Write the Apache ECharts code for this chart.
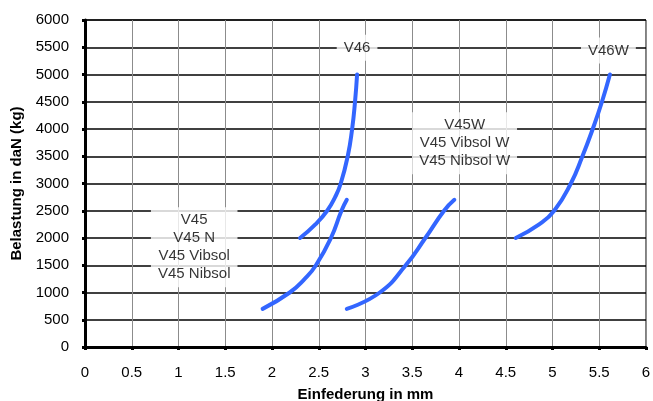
<!DOCTYPE html>
<html>
<head>
<meta charset="utf-8">
<script src="https://cdn.jsdelivr.net/npm/echarts@6/dist/echarts.min.js"></script>
<style>
  html, body { margin: 0; padding: 0; background: #fff; }
  #chart { width: 653px; height: 401px; }
</style>
</head>
<body>
<div id="chart"></div>
<script>
// Kurven (x = Einfederung in mm, y = Belastung in daN)
const v46 = [[2.30, 2000], [2.464, 2250], [2.59, 2500], [2.675, 2750], [2.735, 3000], [2.81, 3500], [2.857, 4000], [2.888, 4500], [2.91, 5000]];
const v45 = [[1.90, 700], [2.19, 1000], [2.35, 1250], [2.47, 1500], [2.63, 2000], [2.743, 2500], [2.80, 2700]];
const v45w = [[2.80, 700], [3.153, 1000], [3.43, 1500], [3.64, 2000], [3.84, 2500], [3.95, 2700]];
const v46w = [[4.607, 2000], [4.857, 2250], [5.018, 2500], [5.196, 3000], [5.32, 3500], [5.43, 4000], [5.529, 4500], [5.614, 5000]];

// Beschriftungen der Kurven
const curveLabels = [
  [2.91, 5490, 'V46'],
  [5.598, 5440, 'V46W'],
  [4.06, 3740, 'V45W\nV45 Vibsol W\nV45 Nibsol W'],
  [1.168, 1830, 'V45\nV45 N\nV45 Vibsol\nV45 Nibsol']
];

const xName = 'Einfederung in mm';
const yName = 'Belastung in daN (kg)';

const font = 'Liberation Sans, Arial, sans-serif';

var myChart = echarts.init(document.getElementById('chart'));

function curve(data) {
  return {
    type: 'line',
    data: data,
    smooth: 0.5,
    showSymbol: false,
    symbol: 'none',
    lineStyle: { color: '#3366FF', width: 4, cap: 'round' },
    z: 3
  };
}

const option = {
  animation: false,
  grid: {
    left: 85, right: 7, top: 20, bottom: 54,
    outerBoundsMode: 'none',
    show: true, borderColor: '#000', borderWidth: 1
  },
  xAxis: {
    type: 'value',
    min: 0, max: 6, interval: 0.5,
    name: xName,
    nameLocation: 'middle',
    nameGap: 40,
    nameTextStyle: { fontFamily: font, fontSize: 15, fontWeight: 'bold', color: '#000' },
    axisLine: { show: true, lineStyle: { color: '#000', width: 3 } },
    axisTick: { show: true, length: 3, lineStyle: { color: '#000', width: 3 } },
    axisLabel: { fontFamily: font, fontSize: 15, color: '#000', margin: 18 },
    splitLine: { show: true, lineStyle: { color: '#8c8c8c', width: 1 } }
  },
  yAxis: {
    type: 'value',
    min: 0, max: 6000, interval: 500,
    name: yName,
    nameLocation: 'middle',
    nameGap: 60,
    nameTextStyle: { fontFamily: font, fontSize: 15, fontWeight: 'bold', color: '#000' },
    axisLine: { show: true, lineStyle: { color: '#000', width: 3 } },
    axisTick: { show: true, length: 3, lineStyle: { color: '#000', width: 3 } },
    axisLabel: { fontFamily: font, fontSize: 15, color: '#000', margin: 16, formatter: v => String(v) },
    splitLine: { show: true, lineStyle: { color: '#000', width: 1.5 } }
  },
  series: [
    curve(v46),
    curve(v45),
    curve(v45w),
    curve(v46w),
    {
      type: 'scatter',
      symbolSize: 0,
      z: 4,
      data: curveLabels.map(d => ({ value: [d[0], d[1]], name: d[2] })),
      label: {
        show: true,
        position: 'inside',
        formatter: p => p.name,
        fontFamily: font,
        fontSize: 15,
        lineHeight: 18,
        color: '#000',
        align: 'center',
        backgroundColor: '#fff',
        padding: [4, 7]
      }
    }
  ]
};

myChart.setOption(option);
</script>
</body>
</html>
